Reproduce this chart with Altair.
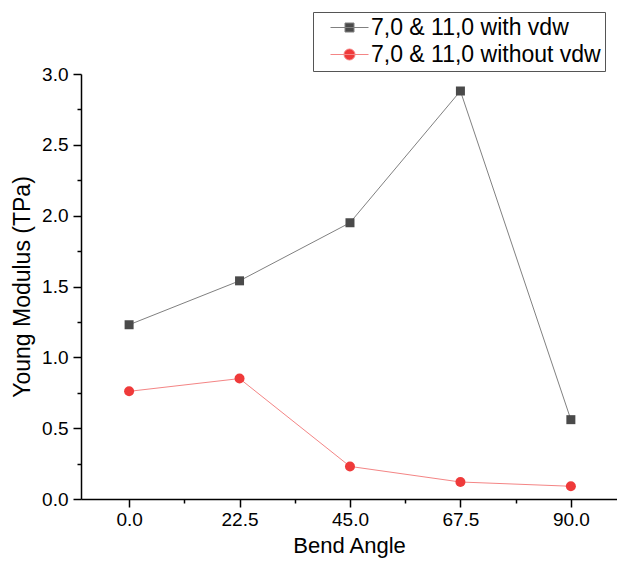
import altair as alt
import pandas as pd

angles = [0.0, 22.5, 45.0, 67.5, 90.0]
with_vdw = [1.23, 1.54, 1.95, 2.88, 0.56]
without_vdw = [0.76, 0.85, 0.23, 0.12, 0.09]
series_names = ["7,0 & 11,0 with vdw", "7,0 & 11,0 without vdw"]

x_ticks = [0.0, 22.5, 45.0, 67.5, 90.0]
x_minor = [11.25, 33.75, 56.25, 78.75]
y_ticks = [0.0, 0.5, 1.0, 1.5, 2.0, 2.5, 3.0]
y_minor = [0.25, 0.75, 1.25, 1.75, 2.25, 2.75]

line_colors = ["#808080", "#f48585"]
marker_colors = ["#4a4a4a", "#ef3a3a"]
legend_paths = [
    "M-1.9,0H1.9M-0.45,-0.45H0.45V0.45H-0.45Z",
    "M-1.9,0H1.9M-0.55,0A0.55,0.55 0 1,0 0.55,0A0.55,0.55 0 1,0 -0.55,0Z",
]

rows = []
for a, v in zip(angles, with_vdw):
    rows.append({"angle": a, "ym": v, "series": series_names[0]})
for a, v in zip(angles, without_vdw):
    rows.append({"angle": a, "ym": v, "series": series_names[1]})
df = pd.DataFrame(rows)

FONT = "Liberation Sans"
xdom = [-9.8, 99.4]
ydom = [0, 3]

xs = alt.Scale(domain=xdom, nice=False, zero=False)
ys = alt.Scale(domain=ydom, nice=False, zero=False)

major_x = alt.Axis(values=x_ticks, format=".1f", orient="bottom", title="Bend Angle",
                   grid=False, tickSize=8, tickWidth=1.5, domainWidth=1.5,
                   domainColor="black", tickColor="black", labelColor="black",
                   labelFontSize=19, labelFont=FONT, labelPadding=3,
                   titleFontSize=22, titleFont=FONT, titleFontWeight="normal",
                   titleColor="black", titlePadding=6, labelFlush=False)
major_y = alt.Axis(values=y_ticks, format=".1f", orient="left", title="Young Modulus (TPa)",
                   grid=False, tickSize=8, tickWidth=1.5, domainWidth=1.5,
                   domainColor="black", tickColor="black", labelColor="black",
                   labelFontSize=19, labelFont=FONT, labelPadding=5,
                   titleFontSize=23, titleFont=FONT, titleFontWeight="normal",
                   titleColor="black", titlePadding=7, labelFlush=False)
minor_x = alt.Axis(values=x_minor, orient="bottom", labels=False, domain=False, grid=False,
                   tickSize=4, tickWidth=1.5, tickColor="black", title=None)
minor_y = alt.Axis(values=y_minor, orient="left", labels=False, domain=False, grid=False,
                   tickSize=4, tickWidth=1.5, tickColor="black", title=None)

leg = alt.Legend(title=None, orient="none", legendX=232, legendY=-62,
                 strokeColor="#555555", fillColor="white", padding=4,
                 labelFontSize=23, labelFont=FONT, labelColor="black",
                 symbolSize=400, symbolOffset=21, labelOffset=10, rowPadding=3,
                 symbolOpacity=1, symbolStrokeWidth=1, labelLimit=400)

base = alt.Chart(df)

lines = base.mark_line(strokeWidth=1).encode(
    x=alt.X("angle:Q", scale=xs, axis=major_x),
    y=alt.Y("ym:Q", scale=ys, axis=major_y),
    color=alt.Color("series:N", scale=alt.Scale(domain=series_names, range=line_colors), legend=leg),
)

squares = base.transform_filter(alt.datum.series == series_names[0]).mark_square(
    size=81, color=marker_colors[0], opacity=1
).encode(
    x=alt.X("angle:Q", scale=xs, axis=minor_x),
    y=alt.Y("ym:Q", scale=ys, axis=minor_y),
)

circles = base.transform_filter(alt.datum.series == series_names[1]).mark_circle(
    size=100, color=marker_colors[1], opacity=1
).encode(
    x=alt.X("angle:Q", scale=xs, axis=None),
    y=alt.Y("ym:Q", scale=ys, axis=None),
)

# legend-only layer: no visible marks, legend built from the explicit scale domains
dummy = base.transform_filter("false").mark_point(opacity=1, filled=True).encode(
    x=alt.X("angle:Q", scale=xs, axis=None),
    y=alt.Y("ym:Q", scale=ys, axis=None),
    shape=alt.Shape("series:N", scale=alt.Scale(domain=series_names, range=legend_paths), legend=leg),
    fill=alt.Fill("series:N", scale=alt.Scale(domain=series_names, range=marker_colors), legend=leg),
    stroke=alt.Stroke("series:N", scale=alt.Scale(domain=series_names, range=line_colors), legend=leg),
)

chart = alt.layer(lines, squares, circles, dummy).resolve_axis(
    x="independent", y="independent"
).properties(
    width=536, height=425,
    padding={"left": 73, "top": 66, "right": 0, "bottom": 59},
    autosize="none",
    background="white",
).configure_view(stroke=None)

chart.save("out.html", embed_options={"renderer": "svg", "actions": False})
